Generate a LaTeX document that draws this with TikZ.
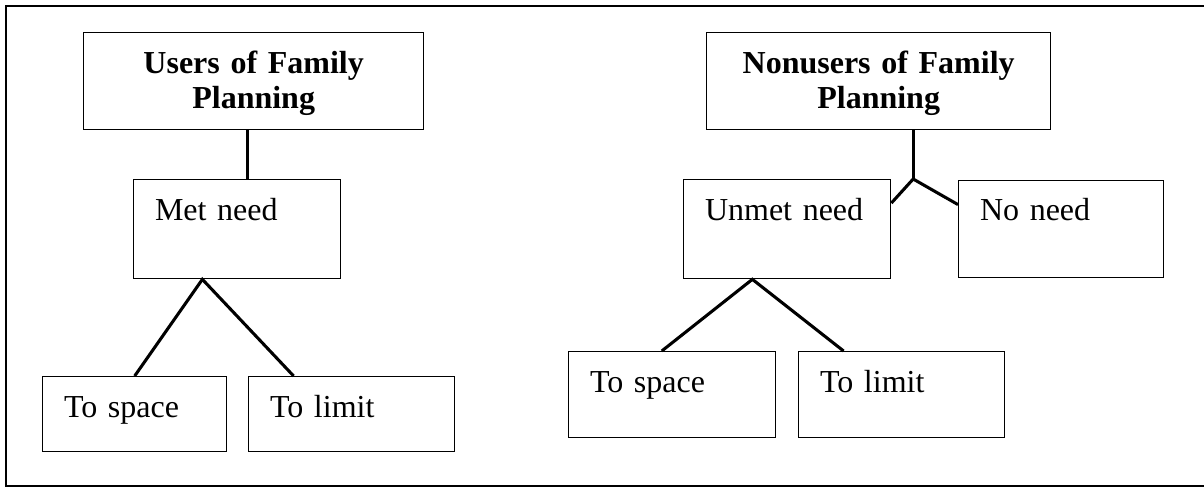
\documentclass[tikz,border=0pt]{standalone}
\usepackage{fontspec}
\setmainfont{Liberation Serif}
\usetikzlibrary{calc}

\tikzset{
  cell/.style={draw, line width=1pt, anchor=north west, inner xsep=16pt,
    inner ysep=0pt, align=left, font=\fontsize{24}{26.25}\selectfont},
  head/.style={cell, align=center, font=\fontsize{24}{26.25}\selectfont\bfseries},
  link/.style={line width=2.3pt}
}

\begin{document}
\begin{tikzpicture}[x=0.75pt, y=-0.75pt]
    \useasboundingbox (0,0) rectangle (1204,487);
    \draw [line width=1.4pt] (1206,6) -- (6,6) -- (6,486) -- (1206,486);

    \node[head, text width=223pt, text height=30.75pt, text depth=42pt]
      (users) at (83,32) {Users of Family\\Planning};
    \node[cell, text width=123.25pt, text height=30.75pt, text depth=43.5pt]
      (met) at (133,179) {Met need};
    \node[cell, text width=106pt, text height=30.75pt, text depth=25.5pt]
      (lspace) at (42,376) {To space};
    \node[cell, text width=122.5pt, text height=30.75pt, text depth=25.5pt]
      (llimit) at (248,376) {To limit};

    \node[head, text width=226pt, text height=30.75pt, text depth=42pt]
      (nonusers) at (706,32) {Nonusers of Family\\Planning};
    \node[cell, text width=123.25pt, text height=30.75pt, text depth=43.5pt]
      (unmet) at (683,179) {Unmet need};
    \node[cell, text width=121.75pt, text height=30pt, text depth=42.75pt]
      (noneed) at (958,180) {No need};
    \node[cell, text width=123.25pt, text height=30.75pt, text depth=33.75pt]
      (rspace) at (568,351) {To space};
    \node[cell, text width=122.5pt, text height=30.75pt, text depth=33.75pt]
      (rlimit) at (798,351) {To limit};

    \coordinate (mettop) at ($(met.north west)!0.55!(met.north east)$);
    \coordinate (metfoot) at ($(met.south west)!0.333!(met.south east)$);
    \draw [link] (mettop) -- (mettop |- users.south);
    \draw [link] (lspace.north) -- (metfoot)
      -- ($(llimit.north west)!0.22!(llimit.north east)$);

    \coordinate (nutop) at ($(nonusers.south west)!0.6!(nonusers.south east)$);
    \coordinate (fork) at (nutop |- unmet.north);
    \coordinate (unmetfoot) at ($(unmet.south west)!0.333!(unmet.south east)$);
    \draw [link] (nutop) -- (fork);
    \draw [link] ($(unmet.north east)!0.24!(unmet.south east)$) -- (fork)
      -- ($(noneed.north west)!0.25!(noneed.south west)$);
    \draw [link] ($(rspace.north west)!0.45!(rspace.north east)$) -- (unmetfoot)
      -- ($(rlimit.north west)!0.22!(rlimit.north east)$);
\end{tikzpicture}
\end{document}
